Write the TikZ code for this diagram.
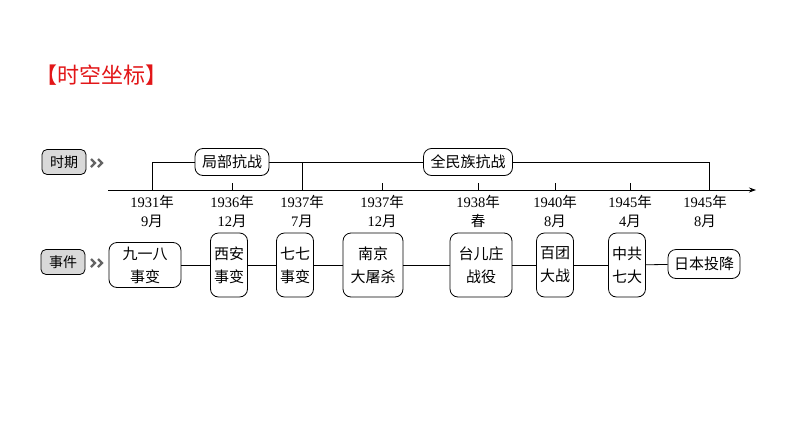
\documentclass[tikz,border=0pt]{standalone}
\usepackage{fontspec}
\setmainfont{Liberation Serif}
\newfontfamily\cjk{Noto Sans CJK SC}
\usetikzlibrary{arrows.meta, positioning}
\definecolor{titlered}{RGB}{226,22,24}
\definecolor{boxgray}{RGB}{217,217,217}
\definecolor{arrowgray}{RGB}{100,100,100}

\begin{document}
\begin{tikzpicture}[x=1pt, y=-1pt, >={Stealth[length=7pt,width=5pt]},
tag box/.style={
draw,
rounded corners=5pt,
fill=boxgray,
line width=0.8pt,
minimum width=44pt,
minimum height=25pt,
inner sep=1pt,
font=\cjk\fontsize{14}{16}\selectfont
},
period box/.style={
draw,
rounded corners=8pt,
fill=white,
line width=0.8pt,
minimum height=27pt,
inner xsep=7pt,
font=\cjk\fontsize{15}{17}\selectfont
},
event box/.style={
draw,
rounded corners=8pt,
fill=white,
line width=0.8pt,
align=center,
minimum width=37pt,
minimum height=64pt,
inner sep=2pt,
font=\cjk\fontsize{15}{23}\selectfont
},
date label/.style={
anchor=north,
align=center,
inner sep=1pt,
font=\fontsize{14.5}{19}\selectfont
},
chevron/.style={arrowgray, line width=2.2pt}
                ]

\useasboundingbox (0,0) rectangle (794,447);

% title
\node[text=titlered, font=\cjk\fontsize{22}{24}\selectfont] (title) at (101,75) {【时空坐标】};

% row labels
\node[tag box] (period) at (64,162) {时期};
\node[tag box] (event) at (63,262) {事件};
\foreach \yy in {163,263} {
  \draw[chevron] (91,\yy-4) -- (95,\yy) -- (91,\yy+4);
  \draw[chevron] (98,\yy-4) -- (102,\yy) -- (98,\yy+4);
}

% time axis
\coordinate (axis start) at (108,190);
\coordinate (axis end) at (756,190);
\draw[->, line width=0.8pt] (axis start) -- (axis end);

\coordinate (t1931) at (152,190);
\coordinate (t1936) at (232,190);
\coordinate (t1937a) at (302,190);
\coordinate (t1937b) at (382,190);
\coordinate (t1938) at (478,190);
\coordinate (t1940) at (555,190);
\coordinate (t1945a) at (630,190);
\coordinate (t1945b) at (709,190);

\foreach \t in {t1936,t1937b,t1938,t1940,t1945a}
  \draw[line width=0.8pt] (\t) -- ++(0,-7);

% periods
\node[period box] (local war) at (232,162) {局部抗战};
\node[period box] (total war) at (468,162) {全民族抗战};

\draw[line width=0.8pt] (t1931) |- (local war.west);
\draw[line width=0.8pt] (local war.east) -- (total war.west);
\draw[line width=0.8pt] (t1937a) -- (t1937a |- local war);
\draw[line width=0.8pt] (total war.east) -| (t1945b);

% dates
\node[date label] (d1) [below=4pt of t1931, anchor=north] {1931{\cjk 年}\\9{\cjk 月}};
\node[date label] (d2) [below=4pt of t1936, anchor=north] {1936{\cjk 年}\\12{\cjk 月}};
\node[date label] (d3) [below=4pt of t1937a, anchor=north] {1937{\cjk 年}\\7{\cjk 月}};
\node[date label] (d4) [below=4pt of t1937b, anchor=north] {1937{\cjk 年}\\12{\cjk 月}};
\node[date label] (d5) [below=4pt of t1938, anchor=north] {1938{\cjk 年}\\{\cjk 春}};
\node[date label] (d6) [below=4pt of t1940, anchor=north] {1940{\cjk 年}\\8{\cjk 月}};
\node[date label] (d7) [below=4pt of t1945a, anchor=north] {1945{\cjk 年}\\4{\cjk 月}};
\node[date label] (d8) [below=4pt of t1945b, anchor=north, xshift=-4pt] {1945{\cjk 年}\\8{\cjk 月}};

% events
\node[event box, minimum width=72pt, minimum height=45pt] (e1) at (145,265) {九一八\\事变};
\node[event box] (e2) at (229,265) {西安\\事变};
\node[event box] (e3) at (295,265) {七七\\事变};
\node[event box, minimum width=60pt] (e4) at (373,265) {南京\\大屠杀};
\node[event box, minimum width=62pt] (e5) at (481,265) {台儿庄\\战役};
\node[event box] (e6) at (555,265) {百团\\大战};
\node[event box] (e7) at (627,265) {中共\\七大};
\node[event box, minimum width=72pt, minimum height=29pt] (e8) at (704,264) {日本投降};

\foreach \a/\b in {e1/e2,e2/e3,e3/e4,e4/e5,e5/e6,e6/e7,e7/e8}
  \draw[line width=0.8pt] (\a) -- (\b);

\end{tikzpicture}
\end{document}
